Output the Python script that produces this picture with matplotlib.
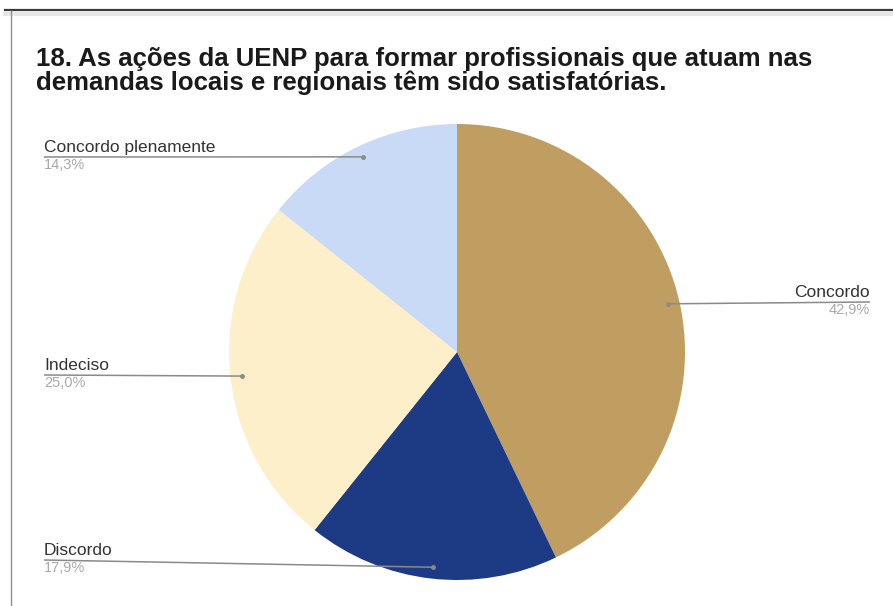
import numpy as np
import matplotlib.pyplot as plt
from matplotlib.lines import Line2D

plt.rcParams['font.family'] = ['Liberation Sans', 'DejaVu Sans']

# dados
categorias = ['Concordo', 'Discordo', 'Indeciso', 'Concordo plenamente']
valores = [42.9, 17.9, 25.0, 14.3]
cores = ['#c09e61', '#1d3a84', '#fdefca', '#c9daf6']
titulo = ['18. As ações da UENP para formar profissionais que atuam nas',
          'demandas locais e regionais têm sido satisfatórias.']

W, H = 893, 606
fig = plt.figure(figsize=(W / 100, H / 100), dpi=100)
ax = fig.add_axes([0, 0, 1, 1])

cx, cy, r = 457, H - 352, 228
wedges, _ = ax.pie(valores, colors=cores, startangle=90, counterclock=False,
                   center=(cx, cy), radius=r, frame=True,
                   wedgeprops=dict(linewidth=0))
ax.set_xlim(0, W)
ax.set_ylim(0, H)
ax.set_aspect('equal')
ax.axis('off')

# posicao dos rotulos (x do texto, y da linha, alinhamento)
rotulos = {
    'Concordo': (870, H - 302, 'right'),
    'Discordo': (44, H - 560, 'left'),
    'Indeciso': (44, H - 375, 'left'),
    'Concordo plenamente': (44, H - 157, 'left'),
}

for w, cat, v in zip(wedges, categorias, valores):
    ang = np.deg2rad((w.theta1 + w.theta2) / 2)
    px = cx + 0.95 * r * np.cos(ang)
    py = cy + 0.95 * r * np.sin(ang)
    tx, ty, ha = rotulos[cat]
    ax.plot([tx, px], [ty, py], color='#8a8a8a', lw=1.1, solid_capstyle='butt')
    ax.plot(px, py, 'o', color='#8a8a8a', ms=2.5)
    ax.text(tx, ty + 5, cat, ha=ha, va='baseline', fontsize=12.5, color='#333333')
    ax.text(tx, ty - 12, f'{v:.1f}%'.replace('.', ','), ha=ha, va='baseline',
            fontsize=10.5, color='#aaaaaa')

ax.text(36, H - 66, titulo[0], ha='left', va='baseline', fontsize=18.5,
        fontweight='bold', color='#1a1a1a')
ax.text(36, H - 90, titulo[1], ha='left', va='baseline', fontsize=18.5,
        fontweight='bold', color='#1a1a1a')

# moldura da captura
fig.add_artist(Line2D([5 / W, 1], [1 - 10 / H, 1 - 10 / H], color='#3a3a3a', lw=1.6))
fig.add_artist(Line2D([5 / W, 1], [1 - 14 / H, 1 - 14 / H], color='#e6e6e6', lw=3))
fig.add_artist(Line2D([11 / W, 11 / W], [0, 1 - 11 / H], color='#8f8f8f', lw=1))

fig.savefig('out.png', dpi=100, facecolor='white')
